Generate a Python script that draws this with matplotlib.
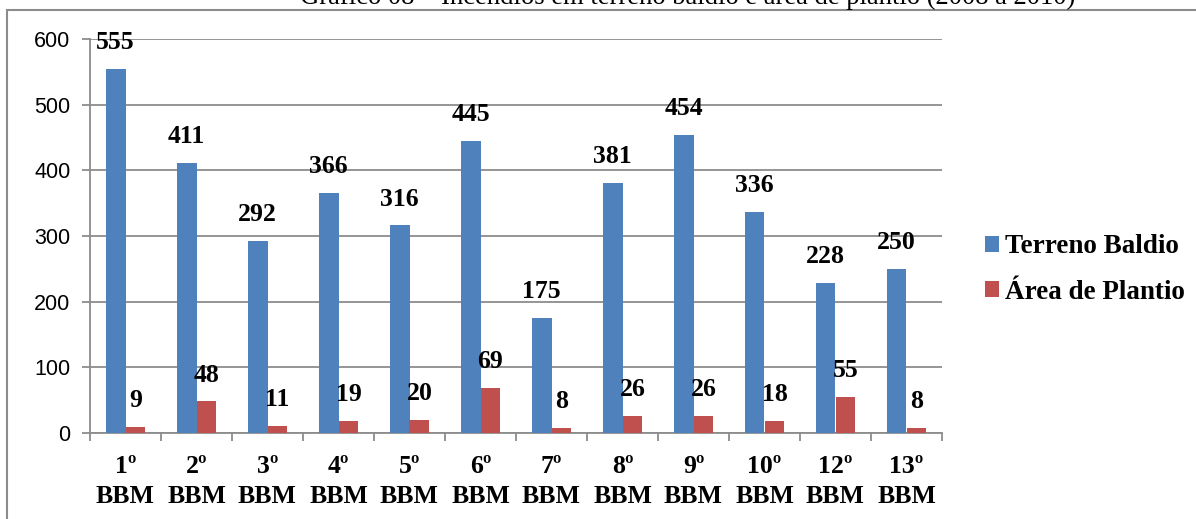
import matplotlib
matplotlib.use("Agg")
import matplotlib.pyplot as plt
from matplotlib.patches import Rectangle
import numpy as np

categorias = ["1º\nBBM", "2º\nBBM", "3º\nBBM", "4º\nBBM", "5º\nBBM", "6º\nBBM",
              "7º\nBBM", "8º\nBBM", "9º\nBBM", "10º\nBBM", "12º\nBBM", "13º\nBBM"]
terreno_baldio = [555, 411, 292, 366, 316, 445, 175, 381, 454, 336, 228, 250]
area_plantio = [9, 48, 11, 19, 20, 69, 8, 26, 26, 18, 55, 8]
titulo = "Gráfico 08 – Incêndios em terreno baldio e área de plantio (2008 a 2010)"

azul = "#4F81BD"
vermelho = "#C0504D"
cinza = "#8C8C8C"
serif = "Liberation Serif"

fig = plt.figure(figsize=(11.96, 5.19), dpi=100)
ax = fig.add_axes([90/1196, 1-433/519, (942-90)/1196, (433-39)/519])

# moldura externa do grafico
fig.patches.append(Rectangle((7/1196, -0.1), 1.2, 1-10/519+0.1, transform=fig.transFigure,
                             fill=False, edgecolor=cinza, linewidth=1.5))

x = np.arange(len(categorias))
w = 0.28
b1 = ax.bar(x - w/2, terreno_baldio, w, color=azul, label="Terreno Baldio", zorder=3)
b2 = ax.bar(x + w/2, area_plantio, w, color=vermelho, label="Área de Plantio", zorder=3)

for bars, vals in ((b1, terreno_baldio), (b2, area_plantio)):
    for r, v in zip(bars, vals):
        ax.annotate(str(v), (r.get_x() + r.get_width()/2, v), xytext=(0, 19),
                    textcoords="offset points", ha="center", va="center",
                    fontsize=18.5, fontweight="bold", family=serif, zorder=4)

ax.set_xlim(-0.5, len(categorias) - 0.5)
ax.set_ylim(0, 600)
ax.set_yticks(range(0, 601, 100))
ax.yaxis.grid(True, color=cinza, linewidth=1.3, zorder=0)
ax.set_axisbelow(True)

ax.set_xticks(np.arange(-0.5, len(categorias), 1))
ax.set_xticklabels([])
ax.set_xticks(x, minor=True)
ax.set_xticklabels(categorias, minor=True, fontsize=18.5, fontweight="bold", family=serif,
                   linespacing=1.38)
ax.tick_params(axis="x", which="major", length=6, color=cinza, width=1.3)
ax.tick_params(axis="x", which="minor", length=0, pad=16)
ax.tick_params(axis="y", length=6, color=cinza, width=1.3, labelsize=15.5, pad=8)
for lab in ax.get_yticklabels():
    lab.set_family("Liberation Sans")

for s in ("top", "right"):
    ax.spines[s].set_visible(False)
for s in ("left", "bottom"):
    ax.spines[s].set_color(cinza)
    ax.spines[s].set_linewidth(1.3)

leg = ax.legend(loc="center left", bbox_to_anchor=(1.05, 0.415), frameon=False,
                prop={"family": serif, "weight": "bold", "size": 19.5},
                borderaxespad=0, borderpad=0,
                handlelength=0.52, handleheight=0.52, handletextpad=0.22, labelspacing=0.75)

fig.text(688/1196, 1-4/519, titulo, ha="center", va="baseline", fontsize=19.2, family=serif)

fig.savefig("out.png", dpi=100)
